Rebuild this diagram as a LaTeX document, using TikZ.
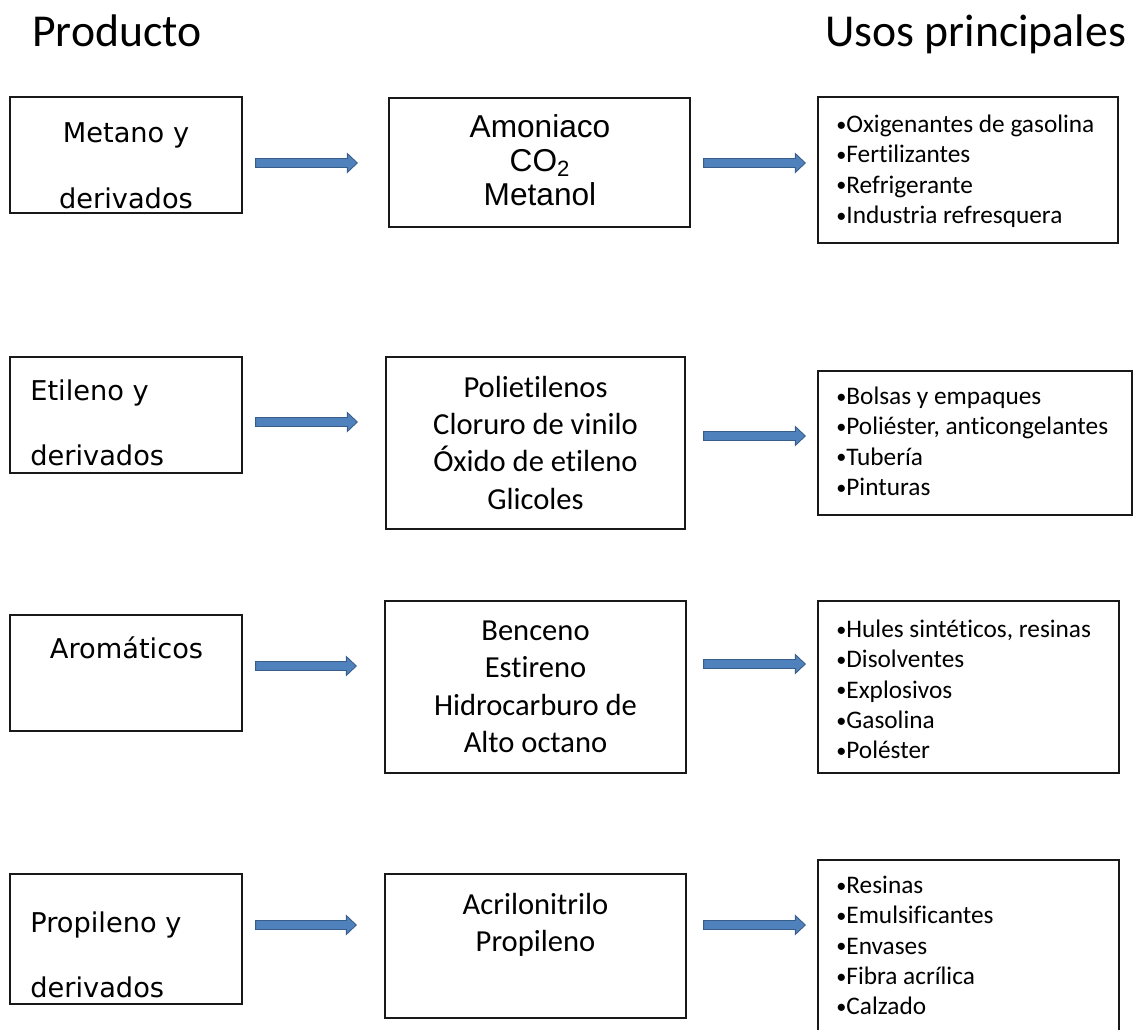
\documentclass[tikz,border=0pt]{standalone}
\usepackage{fontspec}
\setmainfont{Carlito}[Ligatures=NoCommon]
\newfontfamily\comicfont{DejaVu Sans}
\newfontfamily\arialfont{Liberation Sans}
\usetikzlibrary{positioning,calc}
\definecolor{ArrowFill}{RGB}{79,129,189}
\definecolor{ArrowEdge}{RGB}{56,93,138}
\definecolor{BoxLine}{RGB}{25,25,25}
\newcommand{\usebullet}{\raisebox{0.7pt}{\fontsize{11.5}{11.5}\selectfont •}}

\begin{document}
\begin{tikzpicture}[x=0.02cm,y=-0.02cm,
  box/.style={draw=BoxLine,line width=0.8pt,inner sep=0pt},
  head/.style={anchor=base west,inner sep=0pt,font=\fontsize{26}{31}\selectfont},
  prodtxt/.style={inner sep=0pt,font=\comicfont\fontsize{15.5}{37.4}\selectfont},
  midtxt/.style={anchor=north,inner sep=0pt,align=center,font=\fontsize{17.4}{21.3}\selectfont},
  usetxt/.style={anchor=north west,inner sep=0pt,align=left,font=\fontsize{14.4}{17.3}\selectfont},
  blockarr/.style={draw=ArrowEdge,fill=ArrowFill,line width=0.5pt,
    to path={let \p1=(\tikztostart), \p2=(\tikztotarget) in
      (\x1,\y1+2.55pt) -- (\x2-5.7pt,\y1+2.55pt) -- (\x2-5.7pt,\y1+5.4pt) -- (\x2,\y1)
      -- (\x2-5.7pt,\y1-5.4pt) -- (\x2-5.7pt,\y1-2.55pt) -- (\x1,\y1-2.55pt) -- cycle}}]
  \useasboundingbox (0,0) rectangle (1134,1030);
  % titles
  \node[head] (producto) at (32,47) {Producto};
  \node[head] (usos) at (825,47) {Usos principales};
  % product boxes
  \node[box,minimum width=4.64cm,minimum height=2.32cm] (metano) at (126,155) {};
  \node[box,minimum width=4.64cm,minimum height=2.32cm] (etileno) at (126,415) {};
  \node[box,minimum width=4.64cm,minimum height=2.32cm] (aromat) at (126,673) {};
  \node[box,minimum width=4.64cm,minimum height=2.60cm] (propil) at (126,939) {};
  \node[prodtxt,anchor=north,align=center] (metano-t) at (126,122.1) {Metano y\\derivados};
  \node[prodtxt,anchor=north west,align=left] (etileno-t) at (30,379.2) {Etileno y\\derivados};
  \node[prodtxt,anchor=north,align=center] (aromat-t) at (126.5,636.7) {Aromáticos};
  \node[prodtxt,anchor=north west,align=left] (propil-t) at (30,911.2) {Propileno y\\derivados};
  % intermediate boxes
  \node[box,minimum width=6.02cm,minimum height=2.58cm] (amoniaco) at (539.5,162.5) {};
  \node[box,minimum width=5.98cm,minimum height=3.44cm] (polieti) at (535.5,443) {};
  \node[box,minimum width=6.02cm,minimum height=3.44cm] (benceno) at (535.5,687) {};
  \node[box,minimum width=6.02cm,minimum height=2.88cm] (acrilo) at (535.5,946) {};
  \node[midtxt,font=\arialfont\fontsize{18}{19.4}\selectfont] (amoniaco-t) at (540,114) {Amoniaco\\CO\textsubscript{2}\\Metanol};
  \node[midtxt] (polieti-t) at (535.5,375.5) {Polietilenos\\Cloruro de vinilo\\Óxido de etileno\\Glicoles};
  \node[midtxt] (benceno-t) at (535.5,620.6) {Benceno\\Estireno\\Hidrocarburo de\\Alto octano};
  \node[midtxt] (acrilo-t) at (535.5,892.5) {Acrilonitrilo\\Propileno};
  % uses boxes
  \node[box,minimum width=6.00cm,minimum height=2.92cm] (usosmet) at (968,170) {};
  \node[box,minimum width=6.28cm,minimum height=2.88cm] (usoseti) at (975,443) {};
  \node[box,minimum width=6.02cm,minimum height=3.44cm] (usosaro) at (968.5,687) {};
  \node[box,minimum width=6.02cm,minimum height=3.70cm] (usosprop) at (968.5,952.5) {};
  \node[usetxt] (usosmet-t) at (836,114.5) {\usebullet Oxigenantes de gasolina\\\usebullet Fertilizantes\\\usebullet Refrigerante\\\usebullet Industria refresquera};
  \node[usetxt] (usoseti-t) at (836,386.5) {\usebullet Bolsas y empaques\\\usebullet Poliéster, anticongelantes\\\usebullet Tubería\\\usebullet Pinturas};
  \node[usetxt] (usosaro-t) at (836,619.5) {\usebullet Hules sintéticos, resinas\\\usebullet Disolventes\\\usebullet Explosivos\\\usebullet Gasolina\\\usebullet Poléster};
  \node[usetxt] (usosprop-t) at (836,875.5) {\usebullet Resinas\\\usebullet Emulsificantes\\\usebullet Envases\\\usebullet Fibra acrílica\\\usebullet Calzado};
  % arrows
  \draw[blockarr] ([shift={(13,8)}]metano.east) to ([shift={(-31,0)}]amoniaco.west);
  \draw[blockarr] ([shift={(13,7)}]etileno.east) to ([shift={(-28,0)}]polieti.west);
  \draw[blockarr] ([shift={(13,-7)}]aromat.east) to ([shift={(-28,0)}]benceno.west);
  \draw[blockarr] ([shift={(13,-14)}]propil.east) to ([shift={(-28,0)}]acrilo.west);
  \draw[blockarr] ([shift={(13,0.5)}]amoniaco.east) to ([shift={(-12,0)}]usosmet.west);
  \draw[blockarr] ([shift={(18,-7)}]polieti.east) to ([shift={(-12,0)}]usoseti.west);
  \draw[blockarr] ([shift={(17,-23)}]benceno.east) to ([shift={(-12,0)}]usosaro.west);
  \draw[blockarr] ([shift={(17,-21)}]acrilo.east) to ([shift={(-12,0)}]usosprop.west);
\end{tikzpicture}
\end{document}
